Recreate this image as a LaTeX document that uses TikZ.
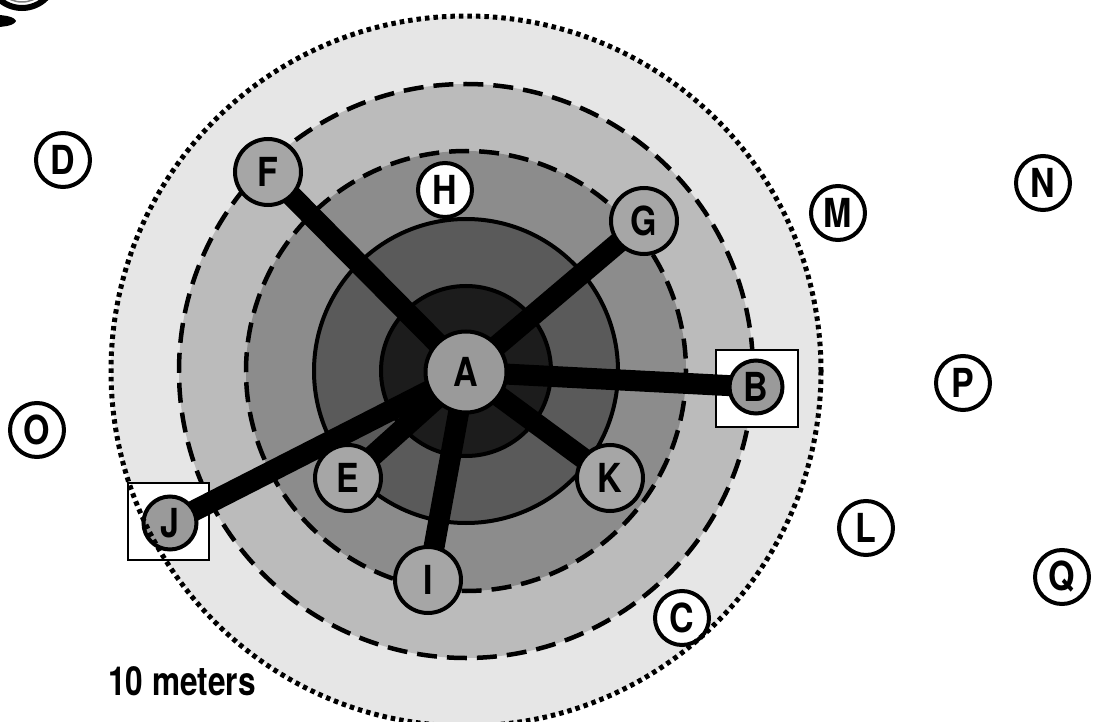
\documentclass[tikz,border=0pt]{standalone}
\usepackage{fontspec}
\setmainfont{TeX Gyre Heros}[FakeStretch=0.85]
\pgfdeclarelayer{bg}
\pgfdeclarelayer{lines}
\pgfdeclarelayer{fg}
\pgfsetlayers{bg,lines,main,fg}
\definecolor{ringA}{HTML}{E6E6E6}
\definecolor{ringB}{HTML}{BBBBBB}
\definecolor{ringC}{HTML}{8C8C8C}
\definecolor{ringD}{HTML}{5A5A5A}
\definecolor{ringE}{HTML}{1C1C1C}
\definecolor{gdark}{HTML}{9A9A9A}
\definecolor{glight}{HTML}{A6A6A6}
\tikzset{
  lbl/.style={font=\fontsize{40}{40}\selectfont\bfseries},
  basenode/.style={circle, draw=black, line width=4pt, inner sep=0pt, lbl},
  wnode/.style={basenode, fill=white, minimum size=54pt},
  gnode/.style={basenode, fill=glight, minimum size=66pt},
  sgnode/.style={basenode, fill=gdark, minimum size=53pt},
  anode/.style={basenode, fill=gdark, minimum size=81pt},
  bar/.style={line width=21pt, black},
  dashring/.style={line width=4.5pt, dash pattern=on 20pt off 10pt},
  solidring/.style={line width=4pt},
  dotring/.style={line width=5pt, dash pattern=on 4.5pt off 4pt},
  framebox/.style={draw=black, line width=1.2pt, fill=white}
}
\begin{document}
\begin{tikzpicture}[x=1pt,y=-1pt]
\useasboundingbox (0,0) rectangle (1093,722);
\clip (0,0) rectangle (1093,722);
\coordinate (ctr) at (466,371);
\begin{pgfonlayer}{bg}
  \fill[ringA] (ctr) circle (355);
  \draw[dashring, fill=ringB] (ctr) circle (287);
  \draw[dashring, fill=ringC] (ctr) circle (220);
  \draw[solidring, fill=ringD] (ctr) circle (152);
  \draw[solidring, fill=ringE] (ctr) circle (85);
  \draw[framebox] (716,350) rectangle (798,427);
  \draw[framebox] (128,483) rectangle (209,560);
  % clipped fragment at the top left corner
  \draw[line width=6pt] (22,-26) circle (34);
  \draw[line width=1.5pt, gray] (22,-26) circle (28);
  \fill (0,15) -- (7,16) .. controls (13,17) and (16,20) .. (16,21)
        .. controls (16,22) and (13,25) .. (7,26) -- (0,27) -- cycle;
\end{pgfonlayer}

\node[anode]  (A) at (466,372) {A};
\node[sgnode] (B) at (756,387) {B};
\node[sgnode] (J) at (170,523) {J};
\node[gnode]  (F) at (268,172) {F};
\node[gnode]  (G) at (644,221) {G};
\node[gnode]  (E) at (348,478) {E};
\node[gnode]  (K) at (610,478) {K};
\node[gnode]  (I) at (428,580) {I};
\node[wnode]  (H) at (445,190) {H};
\node[wnode]  (D) at (63,160) {D};
\node[wnode]  (M) at (838,213) {M};
\node[wnode]  (N) at (1043,183) {N};
\node[wnode]  (P) at (963,383) {P};
\node[wnode]  (O) at (37,430) {O};
\node[wnode]  (L) at (866,528) {L};
\node[wnode]  (Q) at (1062,577) {Q};
\node[wnode]  (C) at (682,618) {C};
\node[lbl, anchor=base west, inner sep=0pt] (scale) at (108,695) {\scalebox{0.93}[1]{10 meters}};

\begin{pgfonlayer}{lines}
  \draw[bar] (A.center) -- (F.center);
  \draw[bar] (A.center) -- (G.center);
  \draw[bar] (A.center) -- (B.center);
  \draw[bar] (A.center) -- (K.center);
  \draw[bar] (A.center) -- (I.center);
  \draw[bar] (A.center) -- (E.center);
  \draw[bar] (A.center) -- (J.center);
\end{pgfonlayer}

\begin{pgfonlayer}{fg}
  \draw[dotring] (ctr) circle (355);
\end{pgfonlayer}
\end{tikzpicture}
\end{document}
